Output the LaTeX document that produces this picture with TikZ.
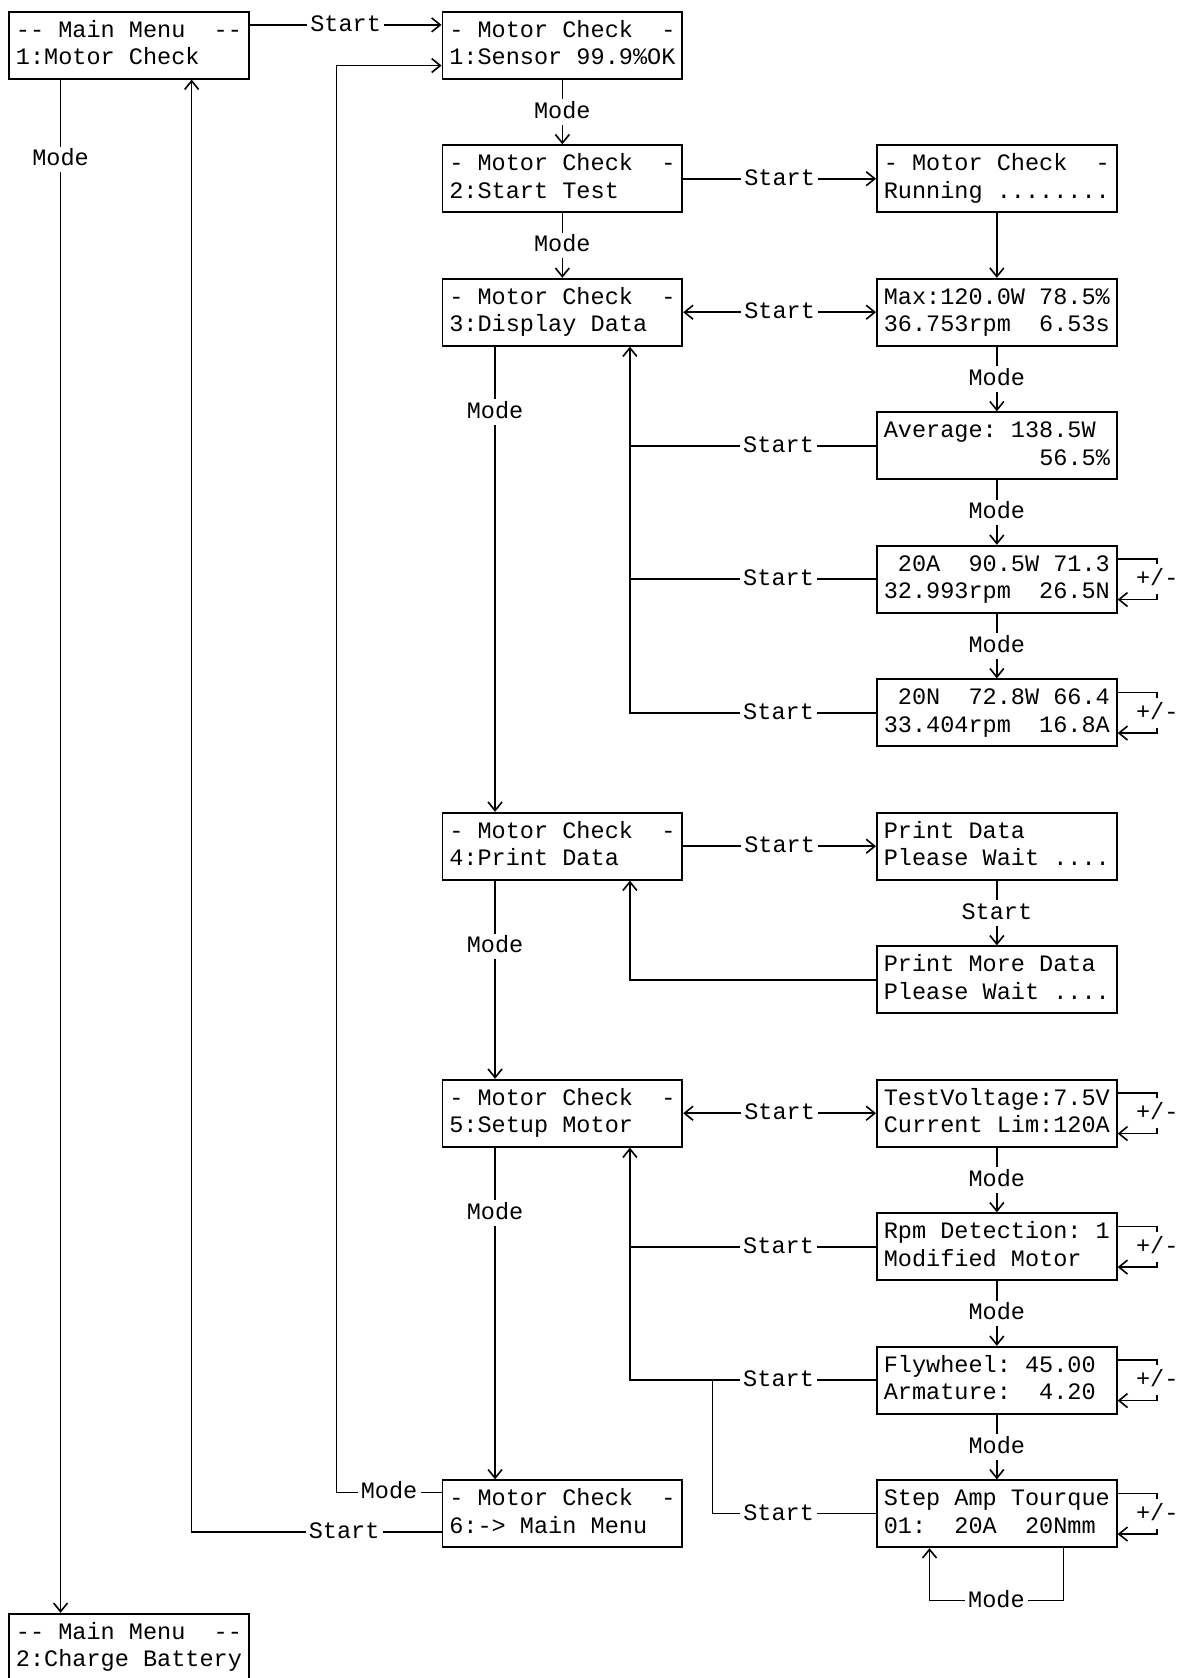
\documentclass[tikz,border=0pt]{standalone}
\usepackage{fontspec}
\setmonofont{Liberation Mono}
\usetikzlibrary{arrows.meta}
\newcommand{\lcdfont}{\ttfamily\fontsize{22}{25.5}\selectfont\frenchspacing\def~{\hphantom{0}}}
\newcommand{\lcdrows}[2]{\rule[-6pt]{0pt}{23pt}#1\\\rule[-6pt]{0pt}{23pt}#2}

\begin{document}
\begin{tikzpicture}[
    x=1pt, y=-1pt,
    every node/.style={font=\lcdfont},
    arr/.style={-{Straight Barb[length=8pt, width=13pt]}, line width=1.5pt},
    dbl/.style={{Straight Barb[length=8pt, width=13pt]}-{Straight Barb[length=8pt, width=13pt]}, line width=1.5pt},
    wire/.style={line width=1.5pt},
    thinwire/.style={line width=0.9pt},
    lbl/.style={fill=white, inner xsep=3pt, inner ysep=4pt, text height=14pt, text depth=2pt},
    pm/.style={fill=white, inner xsep=0pt, inner ysep=6pt, text height=14pt, text depth=2pt},
    lcd/.style={
        rectangle, draw, line width=1.8pt, minimum width=224pt, minimum height=62.5pt,
        text width=211.2pt, inner xsep=6.4pt, inner ysep=0pt, align=left,
    },
]
\useasboundingbox (0,0) rectangle (1106,1568);

% ================================================================ displays
\node[lcd] (mm1) at (120.5, 42.25) {\lcdrows{--~Main~Menu~~--}{1:Motor~Check}};
\node[lcd] (mc1) at (525.5, 42.25) {\lcdrows{-~Motor~Check~~-}{1:Sensor~99.9\%OK}};
\node[lcd] (mc2) at (525.5, 167.0) {\lcdrows{-~Motor~Check~~-}{2:Start~Test}};
\node[lcd] (run) at (931.5, 167.0) {\lcdrows{-~Motor~Check~~-}{Running~........}};
\node[lcd] (mc3) at (525.5, 291.75) {\lcdrows{-~Motor~Check~~-}{3:Display~Data}};
\node[lcd] (max) at (931.5, 291.75) {\lcdrows{Max:120.0W~78.5\%}{36.753rpm~~6.53s}};
\node[lcd] (avg) at (931.5, 416.5) {\lcdrows{Average:~138.5W}{~~~~~~~~~~~56.5\%}};
\node[lcd] (amp) at (931.5, 541.25) {\lcdrows{~20A~~90.5W~71.3}{32.993rpm~~26.5N}};
\node[lcd] (nm) at (931.5, 666.0) {\lcdrows{~20N~~72.8W~66.4}{33.404rpm~~16.8A}};
\node[lcd] (mc4) at (525.5, 790.75) {\lcdrows{-~Motor~Check~~-}{4:Print~Data}};
\node[lcd] (prt) at (931.5, 790.75) {\lcdrows{Print~Data}{Please~Wait~....}};
\node[lcd] (prtm) at (931.5, 915.5) {\lcdrows{Print~More~Data}{Please~Wait~....}};
\node[lcd] (mc5) at (525.5, 1040.25) {\lcdrows{-~Motor~Check~~-}{5:Setup~Motor}};
\node[lcd] (volt) at (931.5, 1040.25) {\lcdrows{TestVoltage:7.5V}{Current~Lim:120A}};
\node[lcd] (rpm) at (931.5, 1165.0) {\lcdrows{Rpm~Detection:~1}{Modified~Motor}};
\node[lcd] (fly) at (931.5, 1289.75) {\lcdrows{Flywheel:~45.00}{Armature:~~4.20}};
\node[lcd] (stp) at (931.5, 1414.5) {\lcdrows{Step~Amp~Tourque}{01:~~20A~~20Nmm}};
\node[lcd] (mc6) at (525.5, 1414.5) {\lcdrows{-~Motor~Check~~-}{6:->~Main~Menu}};
\node[lcd] (mm2) at (120.5, 1539.25) {\lcdrows{--~Main~Menu~~--}{2:Charge~Battery}};

% ================================================================ main menu
\draw[arr] ([yshift=19pt]mm1.east) -- node[lbl]{Start} ([yshift=19pt]mc1.west);
\draw[arr] ([xshift=49pt]mm1.south west) -- node[lbl, pos=0.052]{Mode} ([xshift=49pt]mm2.north west);
\draw[arr] ([yshift=-17pt]mc6.west) -| node[lbl, pos=0.195]{Start} ([xshift=171.5pt]mm1.south west);
\draw[arr] ([yshift=20pt]mc6.west) -- node[lbl]{Mode} ++(-98,0) |- ([yshift=-19pt]mc1.west);

% ================================================================ motor check column
\draw[arr] (mc1) -- node[lbl]{Mode} (mc2);
\draw[arr] (mc2) -- node[lbl]{Mode} (mc3);
\draw[arr] ([xshift=50pt]mc3.south west) -- node[lbl, pos=0.14]{Mode} ([xshift=50pt]mc4.north west);
\draw[arr] ([xshift=50pt]mc4.south west) -- node[lbl, pos=0.332]{Mode} ([xshift=50pt]mc5.north west);
\draw[arr] ([xshift=50pt]mc5.south west) -- node[lbl, pos=0.197]{Mode} ([xshift=50pt]mc6.north west);

% ================================================================ test and data
\draw[arr] (mc2) -- node[lbl]{Start} (run);
\draw[arr] (run) -- (max);
\draw[dbl] (mc3) -- node[lbl]{Start} (max);
\foreach \a/\b in {max/avg, avg/amp, amp/nm, volt/rpm, rpm/fly, fly/stp}{
    \draw[arr] (\a) -- node[lbl]{Mode} (\b);
}
\coordinate (back3) at ([xshift=176pt]mc3.south west);
\foreach \n in {avg, amp}{
    \draw[wire] (\n) -- node[lbl, pos=0.396]{Start} (\n.west -| back3);
}
\draw[arr] (nm) -- node[lbl, pos=0.396]{Start} (nm.west -| back3) -- (back3);

% ================================================================ printing
\draw[arr] (mc4) -- node[lbl]{Start} (prt);
\draw[arr] (prt) -- node[lbl]{Start} (prtm);
\draw[arr] (prtm) -| ([xshift=176pt]mc4.south west);

% ================================================================ setup
\draw[dbl] (mc5) -- node[lbl]{Start} (volt);
\coordinate (back5) at ([xshift=176pt]mc5.south west);
\draw[wire] (rpm) -- node[lbl, pos=0.396]{Start} (rpm.west -| back5);
\draw[arr] (fly) -- node[lbl, pos=0.396]{Start} (fly.west -| back5) -- (back5);
\draw[thinwire] (stp) -- node[lbl, pos=0.595]{Start} ([xshift=-153pt]stp.west) -- ([xshift=-153pt]fly.west);
\draw[arr] ([xshift=175pt]stp.south west) -- ++(0,49) -- node[lbl]{Mode} ++(-125,0) -- ([xshift=50pt]stp.south west);

% ================================================================ +/- keys
\foreach \n in {amp, nm, volt, rpm, fly, stp}{
    \draw[arr] ([yshift=19pt]\n.east) -- ++(37,0) -- node[pm]{+/-} ++(0,38) -- ([yshift=-19pt]\n.east);
}

\end{tikzpicture}
\end{document}
